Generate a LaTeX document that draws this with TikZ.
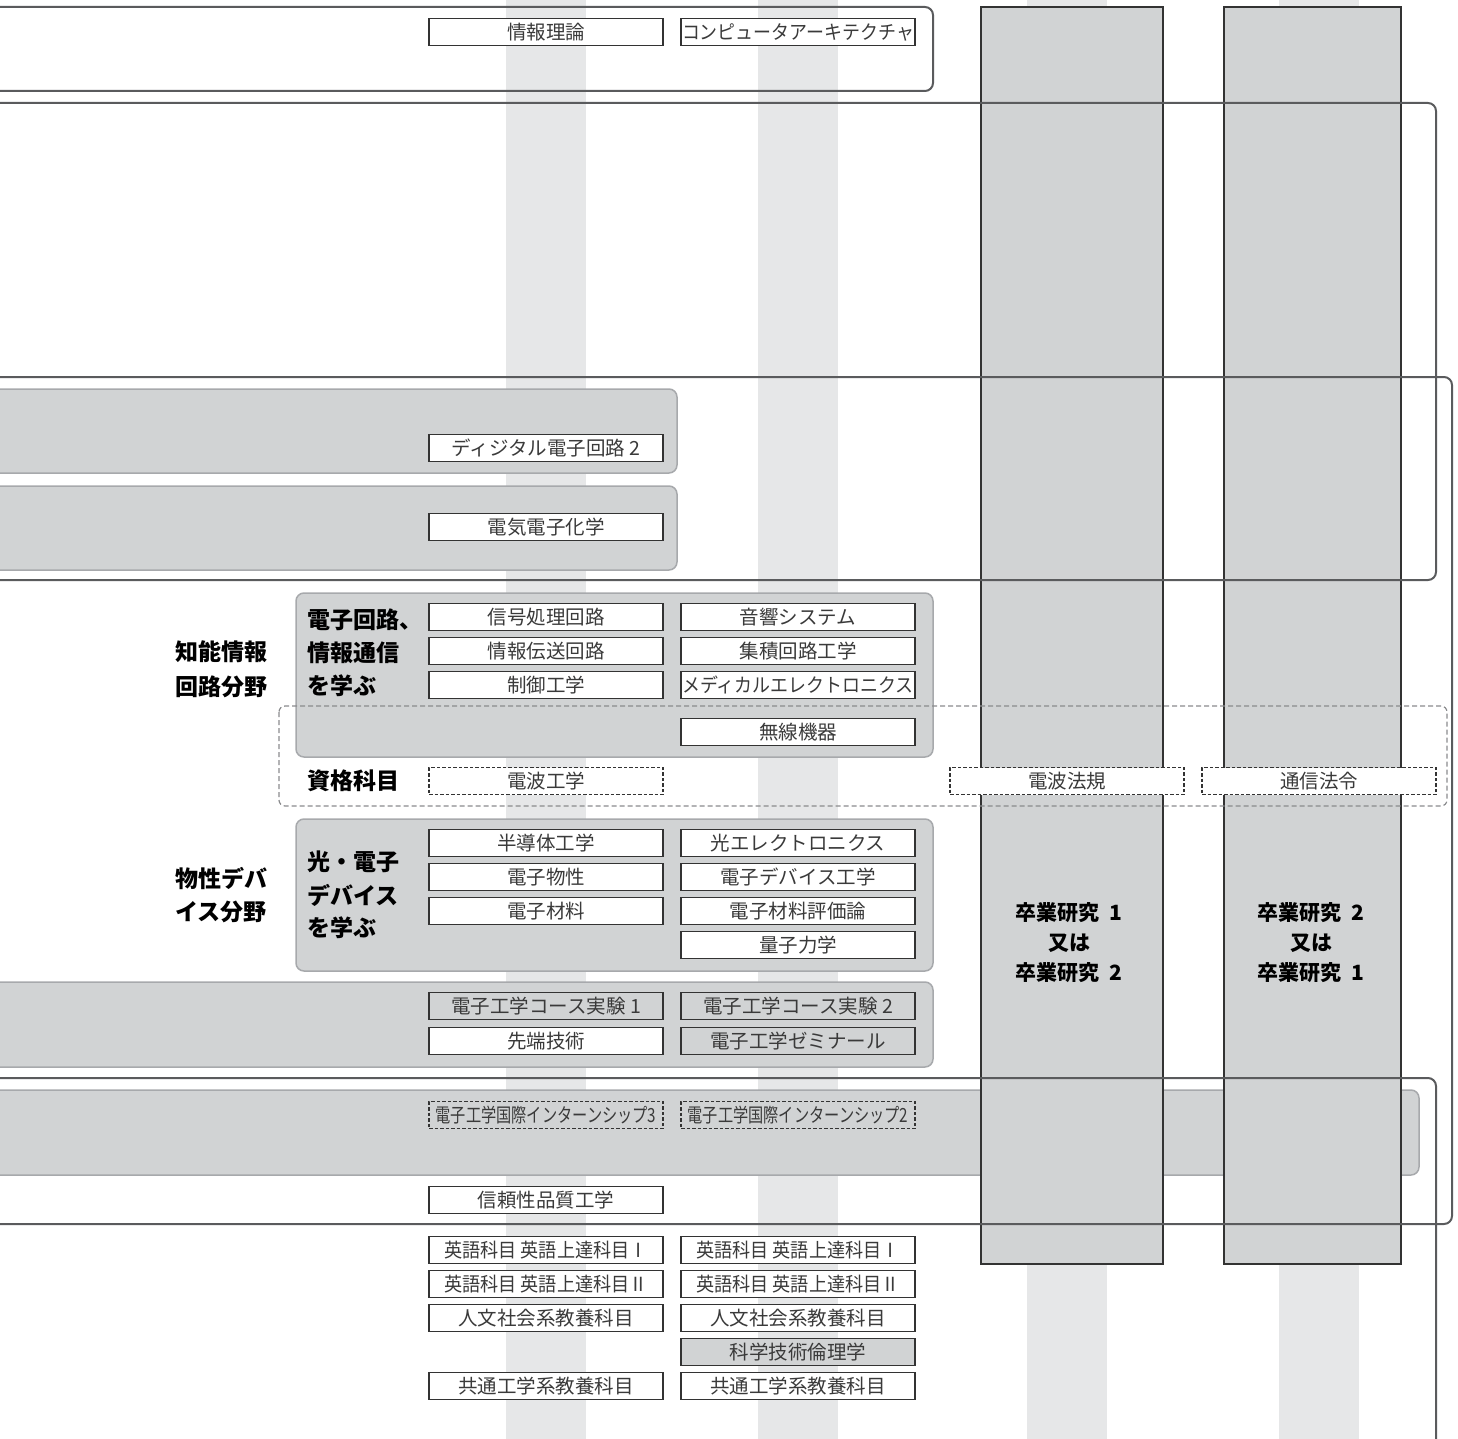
\documentclass[tikz,border=0pt]{standalone}
\usepackage{fontspec}
\newfontfamily\jp{Noto Sans CJK JP}
\usetikzlibrary{positioning}
\definecolor{stripe}{HTML}{E6E7E8}
\definecolor{grayfill}{HTML}{D1D3D4}
\definecolor{grpline}{HTML}{A7A9AC}
\definecolor{frameline}{HTML}{5A5B5D}
\definecolor{boxline}{HTML}{333333}
\definecolor{txt}{HTML}{3A3A3A}
\definecolor{dashline}{HTML}{8A8B8D}
\tikzset{
  subj/.style={draw=boxline, fill=white, line width=1.2pt, minimum width=234pt,
    minimum height=27pt, inner sep=0pt, text=txt,
    font=\jp\fontsize{19.5}{20}\selectfont},
  subjg/.style={subj, fill=grayfill},
  subjd/.style={subj, draw=boxline, dash pattern=on 3.5pt off 2pt},
  subjdg/.style={subjd, fill=none},
  grp/.style={draw=grpline, fill=grayfill, rounded corners=8pt, line width=1.5pt},
  frm/.style={draw=frameline, line width=2pt, rounded corners=8pt},
  gradcol/.style={draw=boxline, fill=grayfill, line width=1.5pt},
  lbl/.style={font=\jp\bfseries\fontsize{23}{24}\selectfont, anchor=west, inner sep=0pt, text=black},
  gradtxt/.style={font=\jp\bfseries\fontsize{21}{30}\selectfont, align=center, inner sep=0pt, text=black},
}
\begin{document}
\begin{tikzpicture}[x=1pt,y=-1pt]
\useasboundingbox (0,0) rectangle (1458,1439);
\clip (0,0) rectangle (1458,1439);
% stripes
\foreach \a in {506,758,1027,1279}{\fill[stripe] (\a,-5) rectangle (\a+80,1445);}
% gray group boxes
\draw[grp] (-20,389) rectangle (677,473);
\draw[grp] (-20,486) rectangle (677,570);
\draw[grp] (296,593) rectangle (933,757);
\draw[grp] (296,819) rectangle (933,971);
\draw[grp] (-20,982) rectangle (933,1067);
\draw[grp] (-20,1090) rectangle (1419,1175);
% graduation research columns
\draw[gradcol] (981,7) rectangle (1163,1264);
\draw[gradcol] (1224,7) rectangle (1401,1264);
% frames
\draw[frm] (-20,7) rectangle (933,91);
\draw[frm] (-20,103) rectangle (1436,580);
\draw[frm] (-20,377) rectangle (1452,1224);
\draw[frm] (-20,1078) rectangle (1436,1460);
% dashed qualification frame
\draw[draw=dashline, line width=1.2pt, dash pattern=on 5pt off 3pt, rounded corners=6pt] (279,706) rectangle (1447,806);
% subject boxes
\node[subj] (s1) at (546,32) {情報理論};
\node[subj] (s2) at (798,32) {\scalebox{0.92}[1]{コンピュータアーキテクチャ}};
\node[subj] (s3) at (546,448) {ディジタル電子回路 2};
\node[subj] (s4) at (546,527) {電気電子化学};
\node[subj] (s5) at (546,617) {信号処理回路};
\node[subj] (s6) at (798,617) {音響システム};
\node[subj] (s7) at (546,651) {情報伝送回路};
\node[subj] (s8) at (798,651) {集積回路工学};
\node[subj] (s9) at (546,685) {制御工学};
\node[subj] (s10) at (798,685) {\scalebox{0.92}[1]{メディカルエレクトロニクス}};
\node[subj] (s11) at (798,732) {無線機器};
\node[subjd] (s12) at (546,781) {電波工学};
\node[subjd] (s13) at (1067,781) {電波法規};
\node[subjd] (s14) at (1319,781) {通信法令};
\node[subj] (s15) at (546,843) {半導体工学};
\node[subj] (s16) at (798,843) {光エレクトロニクス};
\node[subj] (s17) at (546,877) {電子物性};
\node[subj] (s18) at (798,877) {電子デバイス工学};
\node[subj] (s19) at (546,911) {電子材料};
\node[subj] (s20) at (798,911) {電子材料評価論};
\node[subj] (s21) at (798,945) {量子力学};
\node[subjg] (s22) at (546,1006) {電子工学コース実験 1};
\node[subjg] (s23) at (798,1006) {電子工学コース実験 2};
\node[subj] (s24) at (546,1041) {先端技術};
\node[subjg] (s25) at (798,1041) {電子工学ゼミナール};
\node[subjdg] (s26) at (546,1115) {\scalebox{0.78}[1]{電子工学国際インターンシップ3}};
\node[subjdg] (s27) at (798,1115) {\scalebox{0.78}[1]{電子工学国際インターンシップ2}};
\node[subj] (s28) at (546,1200) {信頼性品質工学};
\node[subj] (s29) at (546,1250) {\scalebox{0.93}[1]{英語科目 英語上達科目Ⅰ}};
\node[subj] (s30) at (798,1250) {\scalebox{0.93}[1]{英語科目 英語上達科目Ⅰ}};
\node[subj] (s31) at (546,1284) {\scalebox{0.93}[1]{英語科目 英語上達科目Ⅱ}};
\node[subj] (s32) at (798,1284) {\scalebox{0.93}[1]{英語科目 英語上達科目Ⅱ}};
\node[subj] (s33) at (546,1318) {人文社会系教養科目};
\node[subj] (s34) at (798,1318) {人文社会系教養科目};
\node[subjg] (s35) at (798,1352) {科学技術倫理学};
\node[subj] (s36) at (546,1386) {共通工学系教養科目};
\node[subj] (s37) at (798,1386) {共通工学系教養科目};
% labels
\node[lbl] (l1) at (175,652) {知能情報};
\node[lbl] (l2) at (175,687) {回路分野};
\node[lbl] (l3) at (307,620) {電子回路、};
\node[lbl] (l4) at (307,653) {情報通信};
\node[lbl] (l5) at (307,686) {を学ぶ};
\node[lbl] (l6) at (307,781) {資格科目};
\node[lbl] (l7) at (175,878) {物性デバ};
\node[lbl] (l8) at (175,912) {イス分野};
\node[lbl] (l9) at (307,862) {光・電子};
\node[lbl] (l10) at (307,895) {デバイス};
\node[lbl] (l11) at (307,928) {を学ぶ};
\node[gradtxt] (g1) at (1069,943) {卒業研究\ \ 1\\又は\\卒業研究\ \ 2};
\node[gradtxt] (g2) at (1311,943) {卒業研究\ \ 2\\又は\\卒業研究\ \ 1};
\end{tikzpicture}
\end{document}
